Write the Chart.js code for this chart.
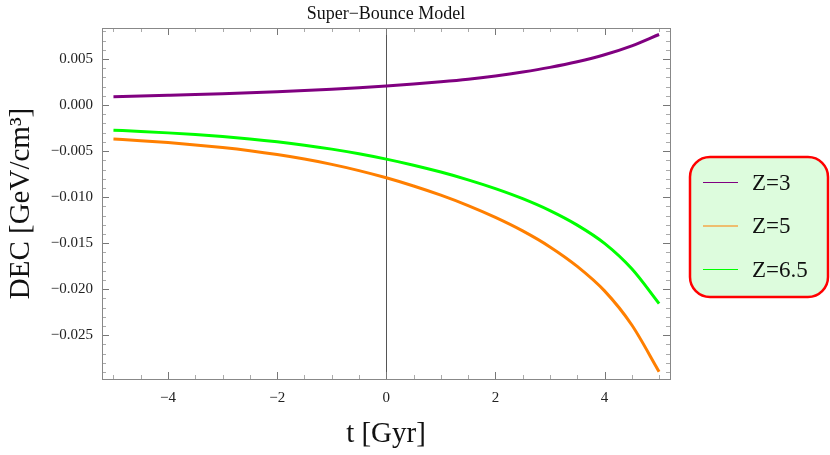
<!DOCTYPE html>
<html>
<head>
<meta charset="utf-8">
<script src="https://cdn.jsdelivr.net/npm/chart.js@4"></script>
<style>
  html, body { margin: 0; padding: 0; background: #fff; }
  #wrap { width: 830px; height: 455px; }
</style>
</head>
<body>
<div id="wrap"><canvas id="dec"></canvas></div>
<script>
// ── data ──
const tValues = [-5, -4.5, -4, -3.5, -3, -2.5, -2, -1.5, -1, -0.5, 0, 0.5, 1, 1.5, 2, 2.5, 3, 3.5, 4, 4.5, 5];
const z3Values = [0.000909, 0.000980, 0.001056, 0.001137, 0.001229, 0.001333, 0.001452, 0.001582, 0.001724, 0.001886, 0.002071,
                  0.002288, 0.002527, 0.002809, 0.003168, 0.003591, 0.004091, 0.004699, 0.005459, 0.006426, 0.007664];
const z5Values = [-0.003685, -0.003864, -0.004076, -0.004326, -0.004619, -0.004966, -0.005379, -0.005868, -0.006443, -0.007117, -0.007899,
                  -0.008789, -0.009788, -0.010918, -0.012199, -0.013665, -0.015403, -0.017520, -0.020181, -0.023884, -0.028956];
const z65Values = [-0.002729, -0.002863, -0.003020, -0.003207, -0.003425, -0.003684, -0.003991, -0.004355, -0.004784, -0.005286, -0.005869,
                   -0.006532, -0.007276, -0.008118, -0.009072, -0.010165, -0.011459, -0.013036, -0.015019, -0.017778, -0.021556];
const seriesLabels = ['Z=3', 'Z=5', 'Z=6.5'];
const seriesColors = ['#800080', '#ff7f00', '#00ff00'];
const xTickValues = [-4, -2, 0, 2, 4];
const yTickValues = [0.005, 0, -0.005, -0.010, -0.015, -0.020, -0.025];

const SERIF = "'Liberation Serif', 'Times New Roman', serif";
const minus = v => (v < 0 ? '\u2212' : '');

// frame with inward ticks (Mathematica style) + the t = 0 axis line
const framePlugin = {
  id: 'frame',
  beforeDatasetsDraw(chart) {
    const { ctx, chartArea: a, scales: { x, y } } = chart;
    ctx.save();
    // t = 0 axis
    ctx.strokeStyle = '#555';
    ctx.lineWidth = 1;
    const x0 = Math.round(x.getPixelForValue(0)) + 0.5;
    ctx.beginPath(); ctx.moveTo(x0, a.top); ctx.lineTo(x0, a.bottom); ctx.stroke();

    // x ticks every 0.5, major at the labelled ones
    for (let i = -10; i <= 10; i++) {
      const v = i * 0.5;
      const px = Math.round(x.getPixelForValue(v)) + 0.5;
      const major = xTickValues.includes(v);
      const len = major ? 7 : 4;
      ctx.strokeStyle = major ? '#777' : '#aaa';
      ctx.beginPath();
      ctx.moveTo(px, a.bottom); ctx.lineTo(px, a.bottom - len);
      ctx.moveTo(px, a.top); ctx.lineTo(px, a.top + len);
      ctx.stroke();
    }
    // y ticks every 0.001, major every 0.005
    for (let i = -29; i <= 8; i++) {
      const v = i / 1000;
      const py = Math.round(y.getPixelForValue(v)) + 0.5;
      const major = i % 5 === 0;
      const len = major ? 7 : 4;
      ctx.strokeStyle = major ? '#777' : '#aaa';
      ctx.beginPath();
      ctx.moveTo(a.left, py); ctx.lineTo(a.left + len, py);
      ctx.moveTo(a.right, py); ctx.lineTo(a.right - len, py);
      ctx.stroke();
    }
    // frame
    ctx.strokeStyle = '#888';
    ctx.strokeRect(a.left + 0.5, a.top + 0.5, a.right - a.left, a.bottom - a.top);
    ctx.restore();
  },
  afterDraw(chart) {
    const { ctx, chartArea: a } = chart;
    ctx.save();
    // plot title, centred over the frame
    ctx.fillStyle = '#111';
    ctx.font = '18px ' + SERIF;
    ctx.textAlign = 'center';
    ctx.textBaseline = 'middle';
    ctx.fillText('Super\u2212Bounce Model', (a.left + a.right) / 2, 14);

    // legend box
    const bx = 690, by = 157, bw = 138, bh = 140, r = 20;
    ctx.beginPath();
    ctx.roundRect(bx, by, bw, bh, r);
    ctx.fillStyle = '#ddfcdd';
    ctx.fill();
    ctx.lineWidth = 2.5;
    ctx.strokeStyle = '#ff0000';
    ctx.stroke();

    ctx.font = '23px ' + SERIF;
    ctx.textAlign = 'left';
    ctx.textBaseline = 'middle';
    chart.data.datasets.forEach((ds, i) => {
      const ly = 182.5 + i * 43.5;
      ctx.strokeStyle = ds.borderColor;
      ctx.lineWidth = 1.2;
      ctx.beginPath(); ctx.moveTo(703, ly); ctx.lineTo(738, ly); ctx.stroke();
      ctx.fillStyle = '#111';
      ctx.fillText(ds.label, 752, ly + 1);
    });
    ctx.restore();
  }
};

const seriesValues = [z3Values, z5Values, z65Values];

new Chart(document.getElementById('dec'), {
  type: 'line',
  data: {
    datasets: seriesValues.map((vals, i) => ({
      label: seriesLabels[i],
      data: tValues.map((t, j) => ({ x: t, y: vals[j] })),
      borderColor: seriesColors[i],
      borderWidth: 3,
      pointRadius: 0,
      cubicInterpolationMode: 'monotone',
      fill: false
    }))
  },
  options: {
    responsive: true,
    maintainAspectRatio: false,
    animation: false,
    layout: { padding: { top: 28, right: 160, left: 0, bottom: 0 } },
    plugins: {
      legend: { display: false },
      title: { display: false },
      tooltip: { enabled: false }
    },
    scales: {
      x: {
        type: 'linear',
        min: -5.21,
        max: 5.2,
        grid: { display: false, drawTicks: false },
        border: { display: false },
        afterBuildTicks: s => { s.ticks = xTickValues.map(v => ({ value: v })); },
        afterFit: s => { s.height = 76; },
        ticks: {
          padding: 10,
          color: '#222',
          font: { family: SERIF, size: 15 },
          callback: v => minus(v) + Math.abs(v)
        },
        title: {
          display: true,
          text: 't [Gyr]',
          color: '#111',
          font: { family: SERIF, size: 29 },
          padding: { top: 0, bottom: 3 }
        }
      },
      y: {
        min: -0.02975,
        max: 0.00837,
        grid: { display: false, drawTicks: false },
        border: { display: false },
        afterBuildTicks: s => { s.ticks = yTickValues.map(v => ({ value: v })); },
        afterFit: s => { s.width = 102; },
        ticks: {
          padding: 9,
          color: '#222',
          font: { family: SERIF, size: 15 },
          callback: v => minus(v) + Math.abs(v).toFixed(3)
        },
        title: {
          display: true,
          text: 'DEC [GeV/cm\u00b3]',
          color: '#111',
          font: { family: SERIF, size: 29 },
          padding: { top: 4, bottom: 0 }
        }
      }
    }
  },
  plugins: [framePlugin]
});
</script>
</body>
</html>
